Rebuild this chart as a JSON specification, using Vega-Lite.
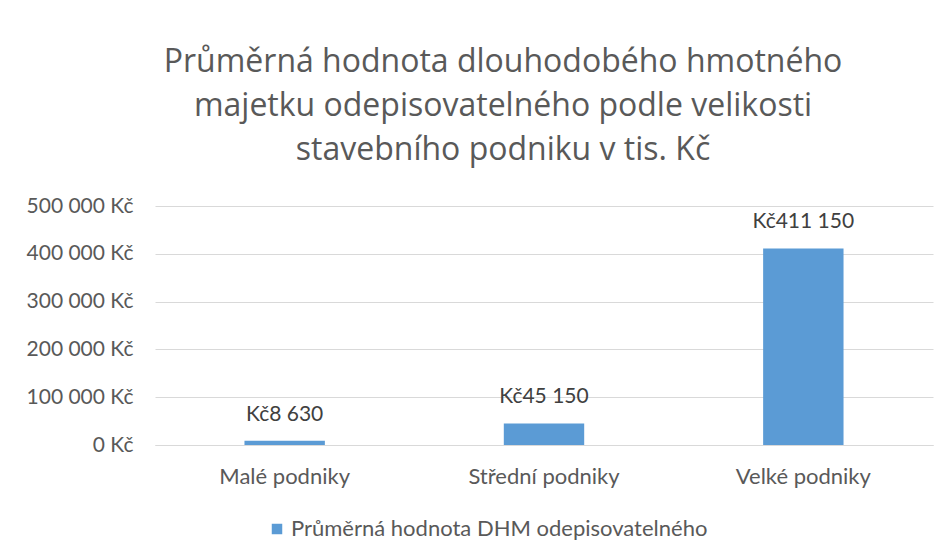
{
  "$schema": "https://vega.github.io/schema/vega-lite/v6.json",
  "autosize": "none",
  "width": 778,
  "height": 239,
  "padding": {"left": 155, "top": 206, "right": 16, "bottom": 114},
  "background": "white",
  "config": {
    "font": "Lato",
    "view": {"stroke": null},
    "locale": {"number": {"decimal": ",", "thousands": " ", "grouping": [3], "currency": ["", " Kč"]}}
  },
  "title": {
    "text": ["Průměrná hodnota dlouhodobého hmotného", "majetku odepisovatelného podle velikosti", "stavebního podniku v tis. Kč"],
    "font": "Open Sans",
    "fontSize": 32,
    "fontWeight": "normal",
    "color": "#595959",
    "lineHeight": 44,
    "anchor": "middle",
    "dx": -41,
    "offset": 28
  },
  "data": {
    "values": [
      {"kategorie": "Malé podniky", "hodnota": 8630, "popisek": "Kč8 630", "serie": "Průměrná hodnota DHM odepisovatelného"},
      {"kategorie": "Střední podniky", "hodnota": 45150, "popisek": "Kč45 150", "serie": "Průměrná hodnota DHM odepisovatelného"},
      {"kategorie": "Velké podniky", "hodnota": 411150, "popisek": "Kč411 150", "serie": "Průměrná hodnota DHM odepisovatelného"}
    ]
  },
  "encoding": {
    "x": {
      "field": "kategorie",
      "type": "nominal",
      "sort": null,
      "scale": {"paddingInner": 0.69, "paddingOuter": 0.345},
      "axis": {
        "title": null,
        "labelAngle": 0,
        "labelFontSize": 22,
        "labelColor": "#595959",
        "labelPadding": 21,
        "ticks": false,
        "domainColor": "#d9d9d9"
      }
    },
    "y": {
      "field": "hodnota",
      "type": "quantitative",
      "scale": {"domain": [0, 500000]},
      "axis": {
        "title": null,
        "values": [0, 100000, 200000, 300000, 400000, 500000],
        "format": "$,d",
        "labelFontSize": 21,
        "labelColor": "#595959",
        "labelPadding": 22,
        "ticks": false,
        "domain": false,
        "gridColor": "#d9d9d9",
        "gridWidth": 1
      }
    }
  },
  "layer": [
    {
      "mark": {"type": "bar", "color": "#5b9bd5"},
      "encoding": {
        "color": {
          "field": "serie",
          "type": "nominal",
          "scale": {"range": ["#5b9bd5"]},
          "legend": {
            "title": null,
            "orient": "none",
            "legendX": 111,
            "legendY": 312,
            "padding": 0,
            "symbolType": "square",
            "symbolSize": 110,
            "symbolStrokeWidth": 0,
            "labelFontSize": 22,
            "labelColor": "#595959",
            "labelLimit": 0,
            "labelOffset": 3
          }
        }
      }
    },
    {
      "mark": {"type": "text", "baseline": "alphabetic", "dy": -20, "fontSize": 21, "color": "#404040"},
      "encoding": {"text": {"field": "popisek"}}
    }
  ]
}
